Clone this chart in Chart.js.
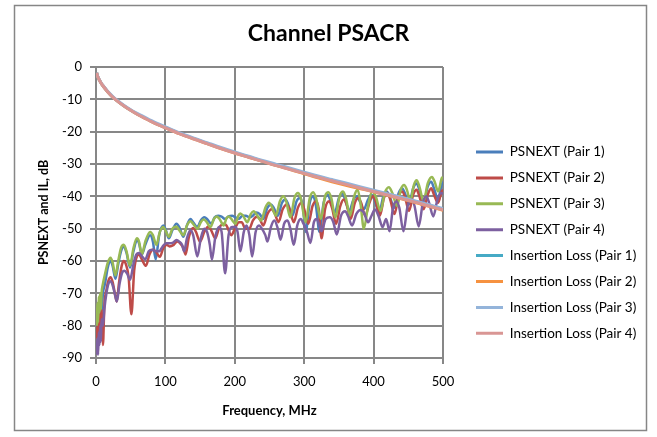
<!DOCTYPE html>
<html><head><meta charset="utf-8">
<script src="https://cdn.jsdelivr.net/npm/chart.js@4/dist/chart.umd.min.js"></script>
<style>html,body{margin:0;padding:0;background:#fff;}canvas{display:block;}</style>
</head><body>
<canvas id="c" width="657" height="437"></canvas>
<script>
const titleText = 'Channel PSACR';
const xTitle = 'Frequency, MHz';
const yTitle = 'PSNEXT and IL, dB';
const xTicks = [0, 100, 200, 300, 400, 500];
const yTicks = [0, -10, -20, -30, -40, -50, -60, -70, -80, -90];
const seriesNames = ['PSNEXT (Pair 1)', 'PSNEXT (Pair 2)', 'PSNEXT (Pair 3)', 'PSNEXT (Pair 4)',
  'Insertion Loss (Pair 1)', 'Insertion Loss (Pair 2)', 'Insertion Loss (Pair 3)', 'Insertion Loss (Pair 4)'];
const seriesColors = ['#4A7EBB', '#BE4B48', '#98B954', '#7D60A0', '#46AAC5', '#F69240', '#94B4DA', '#D99694'];

// Insertion loss, shared frequency grid (MHz)
const ilFreq = [1,2,4,6,8,10,15,20,25,30,40,50,60,70,80,90,100,120,140,160,180,200,220,240,260,280,300,320,340,360,380,400,420,440,460,480,500];
const il1 = [-1.8,-2.7,-3.7,-4.5,-5.2,-5.8,-7.2,-8.4,-9.5,-10.4,-12.0,-13.4,-14.6,-15.7,-16.8,-17.8,-18.7,-20.5,-22.1,-23.6,-25.1,-26.5,-27.8,-29.1,-30.4,-31.6,-32.8,-34.0,-35.1,-36.2,-37.3,-38.3,-39.4,-40.5,-41.6,-42.8,-44.0];
const il2 = [-1.8,-2.7,-3.7,-4.5,-5.2,-5.8,-7.2,-8.4,-9.5,-10.4,-12.0,-13.4,-14.7,-15.8,-16.9,-17.9,-18.8,-20.6,-22.2,-23.7,-25.2,-26.6,-27.9,-29.2,-30.5,-31.7,-33.0,-34.3,-35.5,-36.6,-37.6,-38.6,-39.7,-40.8,-41.9,-43.1,-44.3];
const il3 = [-1.7,-2.6,-3.6,-4.4,-5.1,-5.7,-7.0,-8.2,-9.3,-10.2,-11.8,-13.2,-14.4,-15.5,-16.6,-17.6,-18.5,-20.3,-21.9,-23.4,-24.9,-26.3,-27.6,-28.9,-30.1,-31.3,-32.5,-33.7,-34.8,-35.9,-37.0,-38.1,-39.2,-40.3,-41.4,-42.6,-43.8];
const il4 = [-1.8,-2.7,-3.7,-4.5,-5.2,-5.8,-7.2,-8.4,-9.5,-10.4,-12.0,-13.4,-14.7,-15.8,-16.9,-17.9,-18.8,-20.6,-22.2,-23.7,-25.2,-26.6,-27.9,-29.2,-30.5,-31.7,-32.9,-34.1,-35.2,-36.3,-37.4,-38.5,-39.6,-40.7,-41.8,-43.0,-44.2];

// PSNEXT readings [MHz, dB]
const psnext1 = [[1,-82],[2,-78],[3,-84],[4,-76],[5,-80],[6,-74],[8,-76],[10,-70],[13,-67],[17,-62],[21,-60],[24,-61.5],[28,-65.5],[32,-61],[36,-57],[40,-55.5],[44,-57.5],[49,-62],[54,-57],[59,-53.5],[62,-54.5],[66,-58],[71,-55],[78,-52],[82,-54],[86,-59.5],[91,-52],[97,-49],[100,-50],[105,-53],[110,-50.5],[116,-48.5],[120,-49.5],[126,-52.5],[131,-49],[136,-47],[140,-48],[146,-49.5],[151,-47.5],[156,-46.5],[160,-47],[166,-48.5],[171,-46.5],[176,-46],[181,-46.3],[186,-47],[191,-46.2],[196,-46],[201,-46.5],[206,-47],[211,-46],[216,-46],[221,-46.5],[226,-46],[231,-45],[236,-45.5],[241,-47],[247,-43.5],[252,-42.5],[256,-43.5],[262,-46],[268,-42],[273,-41],[277,-42.5],[283,-46],[289,-41.5],[294,-40.5],[298,-43],[302,-51],[308,-42],[313,-40],[317,-43],[322,-51],[328,-42],[334,-39.5],[338,-41.5],[344,-45],[350,-40.5],[355,-39],[359,-41],[365,-44.5],[371,-41],[376,-40],[380,-41.5],[386,-44],[392,-41],[397,-39.5],[401,-41],[408,-45],[414,-40],[419,-38.5],[423,-40],[430,-43.5],[436,-39],[441,-37.5],[445,-39],[451,-42.5],[457,-37.5],[462,-36],[466,-38],[472,-42],[478,-37],[483,-35.5],[487,-37.5],[493,-41],[498,-36.5],[500,-35.5]];
const psnext2 = [[1,-84],[2,-80],[3,-86],[4,-78],[5,-83],[6,-76],[7,-82],[8,-75],[9,-80],[10,-86],[12,-74],[15,-69],[18,-66],[21,-65],[24,-66.5],[28,-71],[30,-72.5],[33,-67],[37,-61.5],[40,-60],[43,-61],[47,-65],[51,-76.5],[55,-63],[59,-58.5],[62,-58],[66,-59.5],[72,-61.5],[77,-58],[82,-56.5],[86,-57],[92,-58.7],[97,-56],[102,-55],[106,-55.5],[112,-55],[117,-54],[121,-54.5],[126,-56],[129,-58],[134,-52.5],[140,-49.8],[144,-51],[150,-54],[156,-51],[162,-49.3],[166,-50.5],[172,-53],[177,-50],[184,-48.5],[188,-49],[195,-52],[200,-50],[206,-48],[210,-48],[215,-50],[221,-50],[226,-47.5],[232,-46.3],[236,-47],[241,-49],[247,-45.5],[253,-44],[257,-45],[263,-48],[269,-44],[275,-42.5],[279,-44],[285,-48],[291,-43.5],[296,-42],[300,-44],[306,-48.5],[312,-43],[317,-41.5],[321,-44],[325,-53],[330,-44],[336,-41.5],[340,-43.5],[346,-48.5],[352,-43],[357,-41],[361,-42.5],[367,-47],[373,-42],[378,-40.5],[382,-42],[388,-46],[394,-42],[399,-40],[403,-41.5],[409,-46],[415,-40.5],[420,-39],[424,-41],[430,-45.5],[436,-40],[441,-38.5],[445,-40],[451,-44.5],[457,-39.5],[462,-38],[466,-40],[472,-44],[478,-39.5],[483,-37.5],[487,-39.5],[493,-42],[498,-38.5],[500,-38]];
const psnext3 = [[1,-80],[2,-73],[3,-79],[4,-71],[5,-76],[6,-70],[7,-75],[8,-70],[10,-67],[13,-64],[17,-60.5],[21,-59],[24,-60.5],[28,-64.5],[32,-60],[36,-56],[40,-55],[44,-57],[49,-61.5],[54,-56],[59,-53],[62,-54],[66,-58],[71,-54],[78,-51],[82,-52],[87,-55],[92,-51],[97,-49.5],[100,-50.5],[105,-52.5],[110,-50],[116,-49.3],[120,-50.5],[126,-52],[131,-49],[136,-47.7],[140,-48.5],[146,-50],[151,-48],[155,-47.2],[159,-47.8],[165,-49.5],[170,-47],[174,-46.2],[178,-47],[184,-49],[188,-46.8],[191,-46.2],[195,-47],[201,-48.5],[205,-46],[208,-45.3],[212,-46],[218,-48],[223,-45.5],[227,-44.6],[231,-45.5],[238,-47.5],[244,-43.5],[249,-42],[253,-43],[259,-46],[265,-41.5],[270,-40],[274,-41.5],[280,-46.5],[286,-40.5],[291,-39],[295,-40.5],[302,-48],[308,-40.5],[313,-38.7],[317,-40.5],[324,-47],[330,-40],[335,-38.7],[339,-40.5],[345,-46.5],[351,-40],[356,-38.5],[360,-40.5],[366,-46],[372,-40],[377,-38],[381,-42],[386,-50],[392,-43],[398,-38.5],[403,-40],[410,-44.5],[416,-39],[422,-37.2],[427,-39],[434,-43],[439,-38],[444,-36.5],[448,-38],[453,-41.5],[458,-36.5],[462,-35],[466,-37],[472,-41.5],[478,-36],[484,-34],[488,-35.5],[493,-38.5],[498,-34.5],[500,-34]];
const psnext4 = [[1,-89],[2,-84],[3,-89],[4,-82],[5,-86],[6,-80],[7,-85],[8,-78],[10,-80],[12,-75],[15,-70],[18,-67],[21,-66.3],[24,-67.5],[28,-71],[30,-72.5],[34,-67],[38,-63.5],[41,-63],[45,-64],[49,-65.8],[54,-61],[58,-58],[62,-57.5],[66,-58.5],[71,-59.5],[76,-57],[81,-56.5],[86,-57],[91,-57],[96,-55.5],[101,-54.5],[106,-54.5],[111,-54.3],[116,-53.5],[120,-54],[124,-55],[127,-57],[131,-53],[136,-50.5],[140,-52],[146,-58.6],[151,-53],[156,-50],[160,-51],[164,-55],[167,-59.6],[172,-52.5],[177,-49.5],[181,-51],[186,-63.8],[191,-52],[196,-49.5],[201,-49.5],[204,-51],[208,-57],[213,-51],[217,-49],[221,-52],[225,-58.6],[230,-51],[235,-49],[239,-50],[244,-52],[247,-54],[252,-49.5],[257,-47.5],[262,-50],[266,-53.4],[271,-48.5],[276,-47.5],[280,-50],[285,-55],[290,-49],[295,-47],[299,-48.5],[304,-51],[309,-54.4],[314,-48],[318,-47],[322,-49],[325,-50.8],[331,-47],[337,-46.5],[342,-48],[347,-51.8],[353,-46],[359,-44.6],[363,-46],[369,-49],[375,-45.5],[381,-44.2],[386,-45],[392,-48],[397,-46],[402,-44.1],[407,-46],[413,-49.5],[418,-47],[423,-50.8],[428,-43.5],[433,-41.6],[437,-43.5],[443,-50.8],[449,-43],[455,-41],[459,-43],[465,-49.3],[471,-42],[476,-40],[480,-42],[486,-46.2],[492,-41],[497,-39],[500,-39.2]];

const FONT = 'Lato, "Open Sans", sans-serif';
const psSets = [psnext1, psnext2, psnext3, psnext4];
const ilSets = [il1, il2, il3, il4];
const all = [];
psSets.forEach((s, i) => all.push({
  label: seriesNames[i], data: s.map(p => ({x: p[0], y: p[1]})),
  borderColor: seriesColors[i], backgroundColor: seriesColors[i], borderWidth: 2.5
}));
ilSets.forEach((s, i) => all.push({
  label: seriesNames[4 + i], data: ilFreq.map((f, k) => ({x: f, y: s[k]})),
  borderColor: seriesColors[4 + i], backgroundColor: seriesColors[4 + i], borderWidth: 3
}));
// later series drawn on top (dataset 0 is drawn last in Chart.js)
const datasets = all.slice().reverse();

const frame = {
  id: 'frame',
  beforeLayout(chart) {
    const lg = chart.legend;
    if (lg && !lg._fixed) {
      const f = lg.fit.bind(lg);
      lg.fit = function () { f(); this.width = 214; };
      lg._fixed = true;
    }
  },
  beforeDraw(chart) {
    const lg = chart.legend;
    if (lg) { lg.left = 463.6; lg.right = 657; lg.top = 132.85; lg.bottom = 437; }
    const ctx = chart.ctx;
    ctx.save(); ctx.fillStyle = '#fff'; ctx.fillRect(0, 0, chart.width, chart.height); ctx.restore();
  },
  afterDraw(chart) {
    const ctx = chart.ctx;
    ctx.save();
    ctx.strokeStyle = '#868686'; ctx.lineWidth = 1.5;
    ctx.strokeRect(14.5, 5.5, 632, 425);
    ctx.restore();
  }
};

new Chart(document.getElementById('c'), {
  type: 'line',
  data: {datasets},
  plugins: [frame],
  options: {
    responsive: false, animation: false, devicePixelRatio: 1,
    layout: {padding: 0},
    elements: {point: {radius: 0}, line: {cubicInterpolationMode: 'monotone'}},
    plugins: {
      title: {display: true, text: titleText, color: '#000',
        font: {family: FONT, size: 23, weight: 'bold', lineHeight: 1.2}, padding: {top: 20.2, bottom: 19.2}},
      legend: {
        display: true, position: 'right', align: 'start', onClick: null,
        labels: {
          boxWidth: 27, boxHeight: 3, padding: 12.4, color: '#000',
          font: {family: FONT, size: 13.5},
          generateLabels: () => seriesNames.map((n, i) => ({
            text: n, fillStyle: seriesColors[i], strokeStyle: seriesColors[i], lineWidth: 0,
            hidden: false, datasetIndex: 7 - i
          }))
        }
      },
      tooltip: {enabled: false}
    },
    scales: {
      x: {
        type: 'linear', min: 0, max: 500,
        afterBuildTicks: s => { s.ticks = xTicks.map(v => ({value: v})); },
        afterFit: s => { s.height = 79; },
        grid: {color: '#878787', lineWidth: 2, tickLength: 6},
        border: {color: '#878787', width: 2},
        ticks: {color: '#000', padding: 10.2, font: {family: FONT, size: 13}, maxRotation: 0},
        title: {display: true, text: xTitle, color: '#000', font: {family: FONT, size: 13, weight: 'bold'}, padding: {top: 0, bottom: 18.7}}
      },
      y: {
        type: 'linear', min: -90, max: 0,
        afterBuildTicks: s => { s.ticks = yTicks.map(v => ({value: v})); },
        afterFit: s => { s.width = 96; },
        grid: {color: '#878787', lineWidth: 2, tickLength: 6},
        border: {color: '#878787', width: 2},
        ticks: {color: '#000', padding: 8, font: {family: FONT, size: 13}},
        title: {display: true, text: yTitle, color: '#000', font: {family: FONT, size: 12.5, weight: 'bold'}, padding: {top: 36, bottom: 0}}
      }
    }
  }
});
</script>
</body></html>
